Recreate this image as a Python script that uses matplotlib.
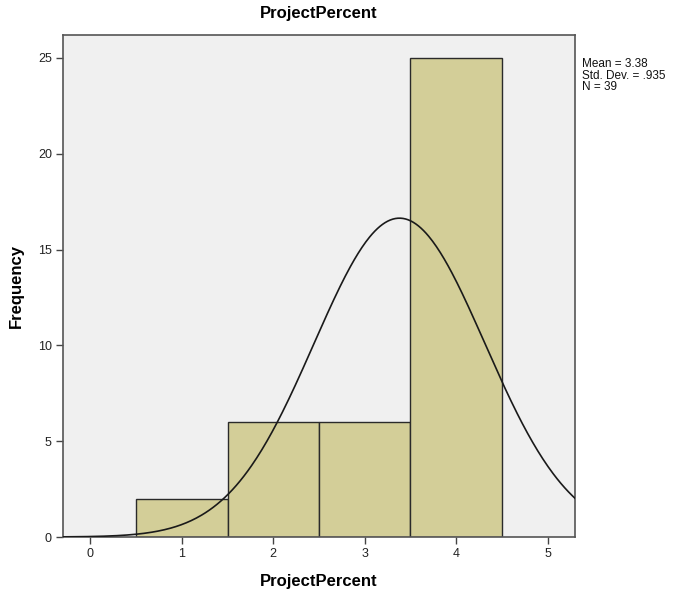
import numpy as np
import matplotlib
matplotlib.use("Agg")
import matplotlib.pyplot as plt

plt.rcParams['font.family'] = ['Liberation Sans', 'DejaVu Sans']

bin_edges = [0.5, 1.5, 2.5, 3.5, 4.5]
counts = [2, 6, 6, 25]
mean_val = 3.38
sd_val = 0.935
n_val = 39
x_ticks = [0, 1, 2, 3, 4, 5]
y_ticks = [0, 5, 10, 15, 20, 25]

fig = plt.figure(figsize=(6.79, 5.94), dpi=100)
ax = fig.add_axes([63/679, 57/594, 512/679, 502/594])
ax.set_facecolor('#F0F0F0')

lefts = bin_edges[:-1]
widths = np.diff(bin_edges)
ax.bar(lefts, counts, width=widths, align='edge', color='#D3CE98',
       edgecolor='#2a2a2a', linewidth=1.0, zorder=2)

xs = np.linspace(-0.3, 5.3, 400)
binw = 1.0
ys = n_val * binw / (sd_val * np.sqrt(2 * np.pi)) * np.exp(-0.5 * ((xs - mean_val) / sd_val) ** 2)
ax.plot(xs, ys, color='#1a1a1a', linewidth=1.2, zorder=3)

ax.set_xlim(-0.3, 5.3)
ax.set_ylim(0, 26.2)
ax.set_xticks(x_ticks)
ax.set_yticks(y_ticks)
ax.tick_params(axis='both', direction='out', length=5, width=1, color='#444444',
               labelsize=9, labelcolor='#222222', pad=3)
for s in ax.spines.values():
    s.set_color('#555555')
    s.set_linewidth(1.2)

ax.set_title('ProjectPercent', fontsize=12, fontweight='bold', pad=12)
ax.set_xlabel('ProjectPercent', fontsize=12, fontweight='bold', labelpad=10)
ax.set_ylabel('Frequency', fontsize=12, fontweight='bold', labelpad=10)

fig.text(582/679, 1 - 58/594, 'Mean = 3.38\nStd. Dev. = .935\nN = 39',
         fontsize=8.5, va='top', ha='left', linespacing=0.95, color='#111111')

fig.savefig('out.png', dpi=100, facecolor='white')
